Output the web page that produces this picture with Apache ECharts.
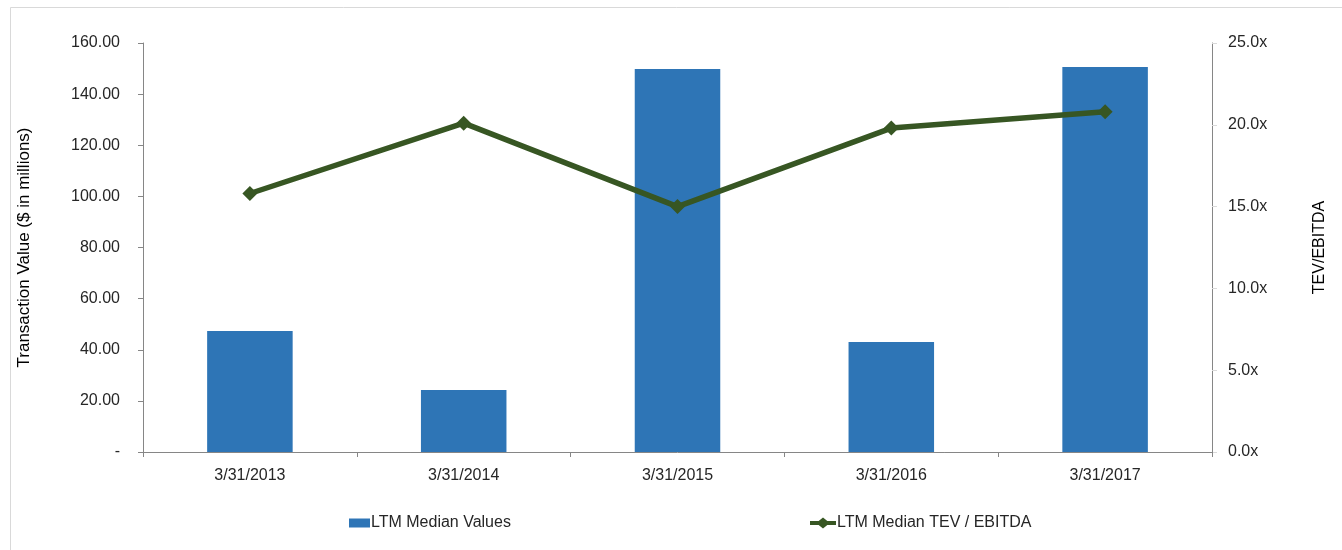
<!DOCTYPE html>
<html>
<head>
<meta charset="utf-8">
<script src="https://cdn.jsdelivr.net/npm/echarts@6/dist/echarts.min.js"></script>
<style>
html,body{margin:0;padding:0;background:#fff;}
#chart{width:1342px;height:550px;}
</style>
</head>
<body>
<div id="chart"></div>
<script>
const categories = ['3/31/2013', '3/31/2014', '3/31/2015', '3/31/2016', '3/31/2017'];
const medianValues = [47.3, 24.3, 149.8, 43.0, 150.6];
const medianTevEbitda = [15.8, 20.1, 15.0, 19.8, 20.8];
const barName = 'LTM Median Values';
const lineName = 'LTM Median TEV / EBITDA';

const FONT = '"Liberation Sans", Arial, sans-serif';
const TXT = '#262626';

const chart = echarts.init(document.getElementById('chart'), null, {renderer: 'canvas'});
chart.setOption({
  animation: false,
  backgroundColor: '#fff',
  textStyle: {fontFamily: FONT},
  graphic: [{
    type: 'rect',
    shape: {x: 10.5, y: 7.5, width: 1340, height: 560},
    style: {fill: 'none', stroke: '#d9d9d9', lineWidth: 1},
    silent: true
  }],
  grid: {left: 143, right: 130, top: 43, bottom: 98, containLabel: false},
  legend: [{
    data: [{name: barName, icon: 'rect'}],
    left: 349, top: 515, padding: 0,
    itemWidth: 21, itemHeight: 9, itemGap: 0,
    textStyle: {fontFamily: FONT, fontSize: 16, color: TXT, padding: [0, 0, 0, -4]}
  }, {
    data: [{name: lineName, icon: 'path://M0,3.2 L8,3.2 L12,0 L16,3.2 L24,3.2 L24,6.8 L16,6.8 L12,10 L8,6.8 L0,6.8 Z'}],
    left: 810, top: 515, padding: 0,
    itemWidth: 26, itemHeight: 11, itemGap: 0,
    textStyle: {fontFamily: FONT, fontSize: 16, color: TXT, padding: [0, 0, 0, -4]}
  }],
  xAxis: {
    type: 'category',
    data: categories,
    axisLine: {lineStyle: {color: '#868686', width: 1}},
    axisTick: {show: true, alignWithLabel: false, length: 5, lineStyle: {color: '#868686'}},
    axisLabel: {color: TXT, fontSize: 16, fontFamily: FONT, margin: 16}
  },
  yAxis: [{
    type: 'value',
    min: 0, max: 160, interval: 20,
    name: 'Transaction Value ($ in millions)',
    nameLocation: 'middle',
    nameRotate: 90,
    nameGap: 110,
    nameTextStyle: {color: '#000', fontSize: 17, fontFamily: FONT},
    axisLine: {show: true, lineStyle: {color: '#868686'}},
    axisTick: {show: true, length: 5, lineStyle: {color: '#868686'}},
    splitLine: {show: false},
    axisLabel: {
      color: TXT, fontSize: 16, fontFamily: FONT, margin: 23,
      formatter: v => v === 0 ? '-' : v.toFixed(2)
    }
  }, {
    type: 'value',
    min: 0, max: 25, interval: 5,
    position: 'right',
    name: 'TEV/EBITDA',
    nameLocation: 'middle',
    nameRotate: 90,
    nameGap: 100,
    nameTextStyle: {color: '#000', fontSize: 16, fontFamily: FONT},
    axisLine: {show: true, lineStyle: {color: '#868686'}},
    axisTick: {show: true, length: 5, lineStyle: {color: '#d9d9d9'}},
    splitLine: {show: false},
    axisLabel: {
      color: TXT, fontSize: 16, fontFamily: FONT, margin: 16,
      formatter: v => v.toFixed(1) + 'x'
    }
  }],
  series: [{
    name: barName,
    type: 'bar',
    data: medianValues,
    yAxisIndex: 0,
    barWidth: '40%',
    itemStyle: {color: '#2E75B6'}
  }, {
    name: lineName,
    type: 'line',
    data: medianTevEbitda,
    yAxisIndex: 1,
    symbol: 'diamond',
    symbolSize: 15,
    lineStyle: {color: '#375623', width: 5.5},
    itemStyle: {color: '#375623'},
    z: 5
  }]
});
</script>
</body>
</html>
